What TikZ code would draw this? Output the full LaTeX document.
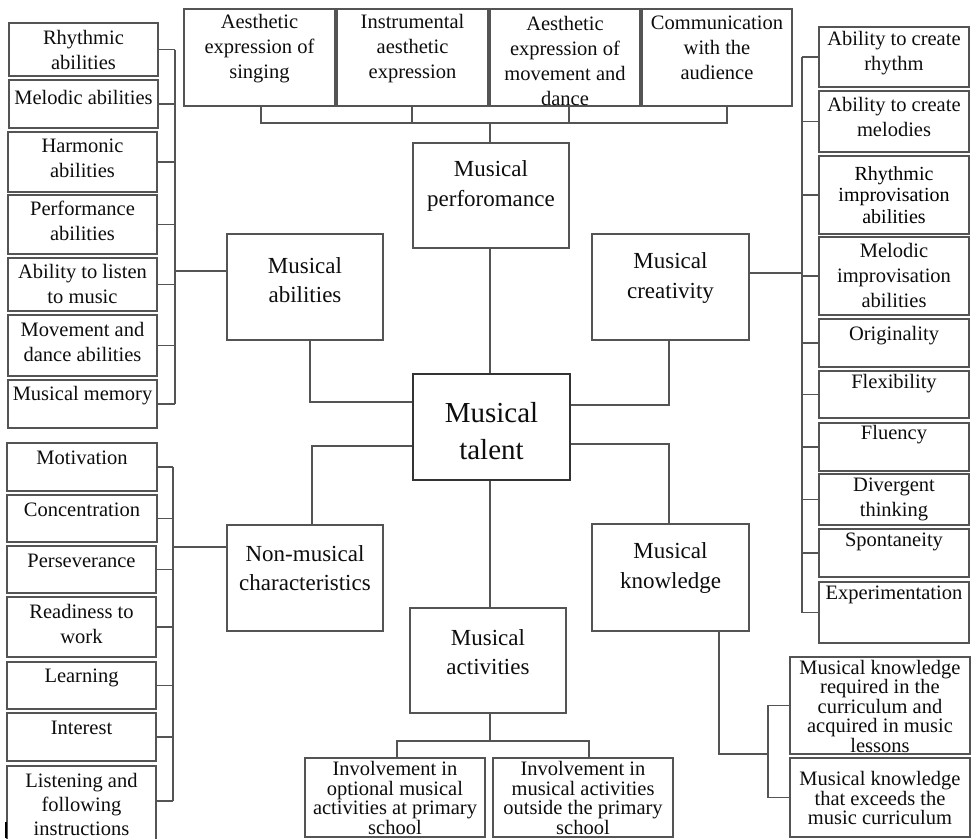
\documentclass[tikz,border=0pt]{standalone}
\usepackage{fontspec}
\setmainfont{Liberation Serif}
\definecolor{linec}{gray}{0.33}
\definecolor{txtc}{gray}{0.05}
\tikzset{
 box/.style={draw=linec, line width=1.4pt, inner sep=0pt},
 ln/.style={draw=linec, line width=1.4pt},
 txt/.style={align=center, inner sep=0pt, text=txtc, font=\fontsize{20.5}{25}\selectfont},
 mid/.style={font=\fontsize{23}{29.5}\selectfont},
 big/.style={font=\fontsize{29}{37}\selectfont},
 tight/.style={font=\fontsize{20.5}{19.5}\selectfont},
 tighter/.style={font=\fontsize{20}{21.5}\selectfont, text=black},
}
\newcommand\bx[8][]{%
 \node[box, minimum width={(#5)-(#3)}, minimum height={(#6)-(#4)}] (#2) at ({((#3)+(#5))/2},{((#4)+(#6))/2}) {};
 \node[txt,#1] (#2-t) at ({((#3)+(#5))/2},#7) {#8};}
\begin{document}
\begin{tikzpicture}[x=1pt,y=-1pt]
\useasboundingbox (0,0) rectangle (976,838);
\fill[white] (0,0) rectangle (976,838);
\clip (0,0) rectangle (976,838);
% top boxes
\bx{t1}{184}{9}{335}{106}{49}{Aesthetic\\expression of\\singing}
\bx{t2}{337}{9}{488}{106}{49}{Instrumental\\aesthetic\\expression}
\bx{t3}{490}{9}{640}{106}{61}{Aesthetic\\expression of\\movement and\\dance}
\bx{t4}{642}{9}{792}{106}{48}{Communication\\with the\\audience}
% middle boxes
\bx[mid]{perf}{413}{143}{569}{248}{186}{Musical\\perforomance}
\bx[mid]{abil}{227}{234}{383}{340}{280}{Musical\\abilities}
\bx[mid]{crea}{592}{234}{749}{340}{278}{Musical\\creativity}
\bx[mid]{nonm}{227}{525}{383}{631}{568}{Non-musical\\characteristics}
\bx[mid]{know}{592}{524}{749}{631}{568}{Musical\\knowledge}
\bx[mid]{act}{410}{608}{566}{713}{652}{Musical\\activities}
\node[box, line width=2.4pt, draw=black!80, minimum width=157, minimum height=106] (tal) at (491.5,427) {};
\node[txt,big] (tal-t) at (491.5,431) {Musical\\talent};
% bottom boxes
\bx[tight]{bA}{305}{758}{485}{837}{798}{Involvement in\\optional musical\\activities at primary\\school}
\bx[tight]{bB}{493}{758}{673}{837}{798}{Involvement in\\musical activities\\outside the primary\\school}
\bx[tight]{k1}{790}{657}{970}{754}{706}{Musical knowledge\\required in the\\curriculum and\\acquired in music\\lessons}
\bx[tight]{k2}{790}{758}{970}{837}{798}{Musical knowledge\\that exceeds the\\music curriculum}
% left column 1
\bx{rh}{9}{23}{158}{76}{50}{Rhythmic\\abilities}
\bx{mel}{9}{80}{158}{128}{97}{Melodic abilities}
\bx{harm}{8}{132}{157}{192}{158}{Harmonic\\abilities}
\bx{perfab}{8}{195}{157}{254}{221}{Performance\\abilities}
\bx{lis}{8}{258}{157}{311}{284}{Ability to listen\\to music}
\bx{mov}{8}{315}{157}{376}{342}{Movement and\\dance abilities}
\bx{mem}{8}{380}{157}{428}{396}{Musical memory}
% left column 2
\bx{mot}{7}{443}{157}{491}{458}{Motivation}
\bx{con}{7}{495}{157}{542}{510}{Concentration}
\bx{per}{7}{546}{156}{593}{561}{Perseverance}
\bx{rea}{7}{597}{156}{657}{624}{Readiness to\\work}
\bx{lea}{7}{662}{156}{709}{678}{Learning}
\bx{int}{7}{713}{156}{761}{728}{Interest}
\bx[font=\fontsize{20.5}{24}\selectfont]{lst}{7}{766}{156}{846}{804}{Listening and\\following\\instructions}
% right column
\bx{r1}{819}{27}{969}{87}{53}{Ability to create\\rhythm}
\bx{r2}{819}{91}{969}{152}{117}{Ability to create\\melodies}
\bx[tighter]{r3}{819}{156}{969}{234}{195}{Rhythmic\\improvisation\\abilities}
\bx{r4}{819}{237}{969}{315}{275}{Melodic\\improvisation\\abilities}
\bx{r5}{819}{319}{969}{367}{336}{Originality}
\bx{r6}{819}{371}{969}{418}{384}{Flexibility}
\bx{r7}{819}{423}{969}{471}{435}{Fluency}
\bx{r8}{819}{474}{969}{525}{499}{Divergent\\thinking}
\bx{r9}{819}{529}{969}{577}{542}{Spontaneity}
\bx{r10}{819}{582}{969}{643}{595}{Experimentation}
% top bus
\coordinate (tb1) at (261,123);
\coordinate (tb2) at (412,123);
\coordinate (tb3) at (569,123);
\coordinate (tb4) at (727,123);
\coordinate (tbm) at (490,123);
\draw[ln] (t1.south -| tb1) -- (tb1) -- (tb4) -- (t4.south -| tb4);
\draw[ln] (t2.south -| tb2) -- (tb2);
\draw[ln] (t3.south -| tb3) -- (tb3);
\draw[ln] (tbm) -- (perf.north -| tbm);
\draw[ln] (perf.south -| tbm) -- (tal.north -| tbm);
% center connectors
\coordinate (ea) at (310,402);
\draw[ln] (abil.south -| ea) -- (ea) -- (ea -| tal.west);
\coordinate (ec) at (669,405);
\draw[ln] (crea.south -| ec) -- (ec) -- (ec -| tal.east);
\coordinate (en) at (312,446);
\draw[ln] (nonm.north -| en) -- (en) -- (en -| tal.west);
\coordinate (ek) at (669,444);
\draw[ln] (know.north -| ek) -- (ek) -- (ek -| tal.east);
\draw[ln] (tal.south -| tbm) -- (act.north -| tbm);
% activities bus
\coordinate (ab) at (490,741);
\coordinate (abl) at (397,741);
\coordinate (abr) at (589,741);
\draw[ln] (act.south -| ab) -- (ab);
\draw[ln] (bA.north -| abl) -- (abl) -- (abr) -- (bB.north -| abr);
% knowledge subs
\coordinate (kk) at (719,754);
\coordinate (kb) at (768,754);
\draw[ln] (know.south -| kk) -- (kk) -- (kb);
\draw[ln] (k1.west) -- (k1.west -| kb) -- (k2.west -| kb) -- (k2.west);
% left bus 1
\coordinate (lb) at (175,0);
\foreach \n in {rh,mel,harm,perfab,lis,mov,mem} \draw[ln] (\n.east) -- (\n.east -| lb);
\draw[ln] (rh.east -| lb) -- (mem.east -| lb);
\coordinate (la) at (175,271);
\draw[ln] (la) -- (la -| abil.west);
% left bus 2
\coordinate (lc) at (173,0);
\foreach \n in {mot,con,per,rea,lea,int} \draw[ln] (\n.east) -- (\n.east -| lc);
\coordinate (lst-s) at (156,801);
\draw[ln] (lst-s) -- (lst-s -| lc);
\draw[ln] (mot.east -| lc) -- (lst-s -| lc);
\coordinate (lcn) at (173,547);
\draw[ln] (lcn) -- (lcn -| nonm.west);
% right bus
\coordinate (rb) at (802,0);
\foreach \n in {r1,r2,r3,r4,r5,r6,r7,r8,r9,r10} \draw[ln] (\n.west) -- (\n.west -| rb);
\draw[ln] (r1.west -| rb) -- (r10.west -| rb);
\coordinate (ra) at (802,273);
\draw[ln] (ra) -- (ra -| crea.east);
% edge mark
\draw[line width=2pt, black] (6,822) -- (6,838);
\end{tikzpicture}
\end{document}
